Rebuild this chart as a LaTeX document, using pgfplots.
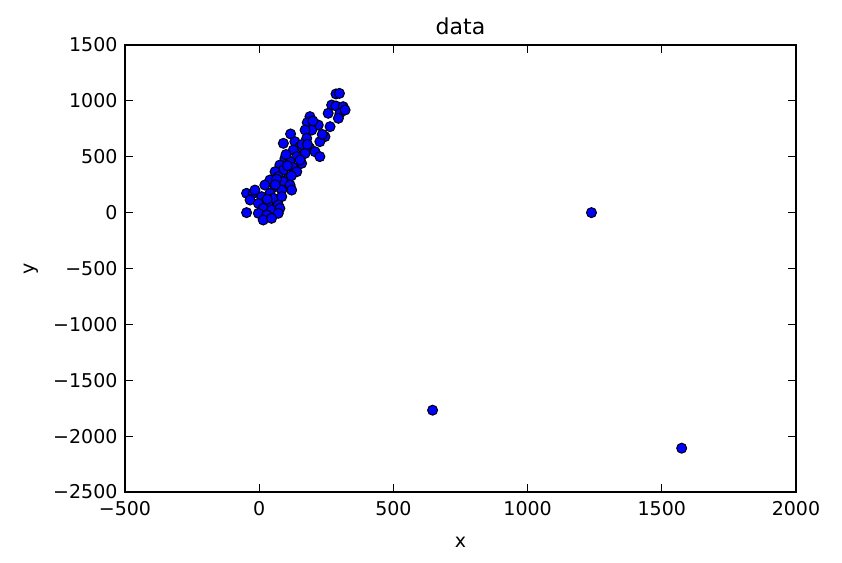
\documentclass[border=0pt]{standalone}
\usepackage{fontspec}
\setmainfont{DejaVu Sans}
\usepackage{pgfplots}
\pgfplotsset{compat=1.18}
\begin{document}
\begin{tikzpicture}
\begin{axis}[
    name=ax,
    scale only axis,
    width=671pt, height=447pt,
    xmin=-500, xmax=2000,
    ymin=-2500, ymax=1500,
    xtick={-500,0,500,1000,1500,2000},
    xticklabels={−500,0,500,1000,1500,2000},
    ytick={-2500,-2000,-1500,-1000,-500,0,500,1000,1500},
    yticklabels={−2500,−2000,−1500,−1000,−500,0,500,1000,1500},
    tick align=inside,
    major tick length=8pt,
    tick style={black, line width=1pt},
    axis line style={line width=1.5pt},
    ticklabel style={font=\fontsize{19}{22}\selectfont},
    xticklabel style={yshift=-6pt},
    yticklabel style={xshift=-4pt},
    title={data},
    title style={font=\fontsize{22}{26}\selectfont, yshift=1pt},
    xlabel={x},
    ylabel={y},
    label style={font=\fontsize{19}{22}\selectfont},
    xlabel style={yshift=-14pt},
    ylabel style={yshift=8pt},
]
\addplot[only marks, mark=*, mark size=5pt,
    mark options={fill=blue, draw=black, line width=1pt}]
coordinates {
(286,1062) (299,1067) (270,963) (286,954) (313,948) (257,889) (301,889)
(320,918) (295,844) (189,859) (179,805) (220,784) (264,769) (196,739)
(171,739) (117,704) (245,680) (90,620) (133,635) (177,665) (226,635)
(152,590) (189,575) (127,560) (208,545) (171,530) (226,501) (140,501)
(96,486) (115,456) (158,441) (77,426) (127,405) (90,381) (59,366)
(140,366) (71,322) (109,307) (40,292) (90,277) (21,247) (59,232)
(115,247) (84,202) (40,173) (121,202) (-47,173) (-22,173) (9,143)
(53,128) (84,143) (-34,113) (-3,83) (34,68) (71,68) (15,38) (46,23)
(77,38) (-47,0) (-3,-6) (28,-21) (71,-6) (15,-66) (46,-51) (-16,202)
(152,471) (200,820) (235,700) (160,610) (105,420) (65,300) (30,120)
(100,520) (180,610) (60,250) (120,330)
(1238,0) (646,-1768) (1574,-2108)
};
\end{axis}
\path (ax.south west) ++(-125pt,-70pt) coordinate (bbl);
\path (ax.north east) ++(46pt,45pt) coordinate (bbr);
\useasboundingbox (bbl) rectangle (bbr);
\end{tikzpicture}
\end{document}
